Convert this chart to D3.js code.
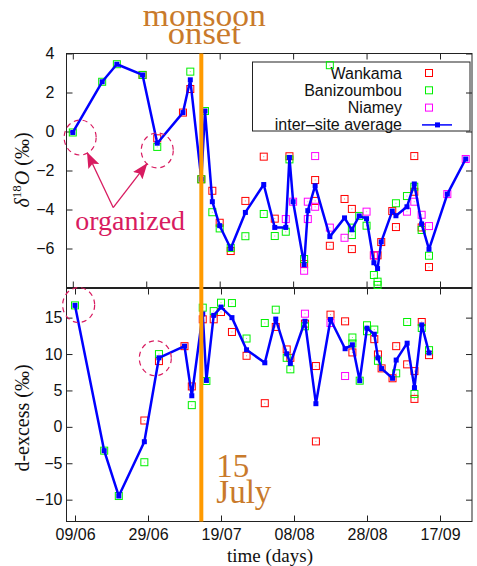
<!DOCTYPE html>
<html>
<head>
<meta charset="utf-8">
<script src="https://cdn.jsdelivr.net/npm/d3@7"></script>
<style>
body { margin: 0; background: #fff; }
svg { display: block; }
</style>
</head>
<body>
<svg id="chart"></svg>
<script>
// ---- values (dd/mm, 2006) ----
var xTickLabels = ['09/06', '29/06', '19/07', '08/08', '28/08', '17/09'];
var d18oTicks = [-6, -4, -2, 0, 2, 4];
var dexTicks = [-10, -5, 0, 5, 10, 15];
var monsoonOnset = '14/07';

// delta 18O panel
var d18oAvgDates = ['09/06', '17/06', '21/06', '28/06', '02/07', '09/07', '11/07', '14/07', '15/07', '17/07',
  '19/07', '22/07', '26/07', '31/07', '03/08', '06/08', '07/08', '08/08', '11/08', '12/08', '14/08', '18/08',
  '22/08', '24/08', '26/08', '28/08', '30/08', '31/08', '01/09', '04/09', '05/09', '08/09', '10/09', '12/09',
  '14/09', '19/09', '24/09'];
var d18oAvg = [-0.05, 2.55, 3.45, 2.9, -0.6, 0.97, 2.65, -2.45, 1.05, -3.6,
  -4.83, -6.0, -4.15, -2.72, -4.92, -4.92, -1.33, -3.6, -6.83, -4.06, -2.78, -5.39,
  -4.43, -5.04, -4.33, -4.47, -6.73, -7.03, -5.66, -4.08, -4.32, -3.86, -2.69, -4.74,
  -6.04, -3.21, -1.41];
var d18oWankama = [['28/06', 2.9], ['02/07', -0.35], ['09/07', 0.97], ['11/07', 2.18], ['14/07', -2.45],
  ['17/07', -3.04], ['19/07', -4.68], ['22/07', -6.13], ['26/07', -3.56], ['31/07', -1.29], ['03/08', -4.47],
  ['07/08', -1.27], ['11/08', -6.8], ['14/08', -2.49], ['14/08', -3.56], ['18/08', -5.86], ['22/08', -3.46],
  ['24/08', -3.97], ['24/08', -6.03], ['30/08', -6.35], ['31/08', -6.35], ['01/09', -5.67], ['04/09', -4.08],
  ['05/09', -4.9], ['10/09', -1.26], ['10/09', -3.09], ['12/09', -4.92], ['14/09', -6.95]];
var d18oBanizoumbou = [['09/06', -0.05], ['17/06', 2.55], ['21/06', 3.45], ['28/06', 2.9], ['02/07', -0.79],
  ['11/07', 3.07], ['14/07', -2.45], ['15/07', 1.05], ['17/07', -4.14], ['19/07', -4.97], ['22/07', -5.97],
  ['26/07', -5.37], ['31/07', -4.23], ['03/08', -5.36], ['06/08', -5.14], ['07/08', -1.43], ['11/08', -6.54],
  ['18/08', 3.4], ['24/08', -4.93], ['24/08', -5.31], ['26/08', -4.33], ['28/08', -4.83], ['30/08', -7.36],
  ['31/08', -7.7], ['31/08', -7.87], ['05/09', -3.68], ['08/09', -3.31], ['10/09', -2.83], ['12/09', -5.05],
  ['14/09', -6.37]];
var d18oNiamey = [['06/08', -4.49], ['08/08', -3.6], ['11/08', -7.14], ['12/08', -3.6], ['12/08', -4.49],
  ['14/08', -1.26], ['14/08', -3.86], ['18/08', -4.93], ['22/08', -5.45], ['28/08', -4.11], ['30/08', -6.35],
  ['08/09', -4.11], ['10/09', -3.6], ['12/09', -4.27], ['14/09', -4.85], ['19/09', -3.21], ['24/09', -1.41]];

// d-excess panel
var dexAvgDates = ['09/06', '17/06', '21/06', '28/06', '02/07', '09/07', '11/07', '14/07', '15/07', '17/07',
  '19/07', '22/07', '26/07', '31/07', '03/08', '06/08', '07/08', '11/08', '14/08', '18/08', '22/08', '24/08',
  '26/08', '28/08', '30/08', '31/08', '01/09', '04/09', '05/09', '08/09', '10/09', '12/09', '14/09'];
var dexAvg = [16.68, -3.27, -9.5, -2.04, 9.48, 11.08, 4.27, 15.5, 6.37, 15.31,
  16.45, 15.0, 10.58, 8.8, 14.8, 10.03, 8.71, 14.5, 3.18, 14.75, 10.73, 11.27,
  6.34, 13.55, 12.72, 9.48, 8.0, 6.67, 9.17, 11.49, 5.38, 14.0, 10.16];
var dexWankama = [['28/06', 0.87], ['02/07', 9.03], ['09/07', 11.08], ['11/07', 5.55], ['14/07', 14.77],
  ['17/07', 14.77], ['19/07', 15.77], ['22/07', 13.03], ['26/07', 9.76], ['31/07', 3.25], ['03/08', 13.72],
  ['06/08', 10.63], ['07/08', 9.48], ['11/08', 14.18], ['14/08', 8.35], ['14/08', -2.0], ['18/08', 15.41],
  ['22/08', 14.49], ['24/08', 10.22], ['30/08', 12.04], ['31/08', 9.94], ['01/09', 8.03], ['04/09', 6.67],
  ['05/09', 11.08], ['08/09', 8.58], ['10/09', 7.66], ['10/09', 3.84], ['12/09', 14.4], ['14/09', 9.85]];
var dexBanizoumbou = [['09/06', 16.68], ['17/06', -3.27], ['21/06', -9.5], ['28/06', -4.86], ['02/07', 9.99],
  ['11/07', 2.98], ['14/07', 16.37], ['15/07', 6.3], ['17/07', 15.9], ['19/07', 17.05], ['22/07', 17.0],
  ['26/07', 12.13], ['31/07', 14.26], ['03/08', 16.09], ['06/08', 9.48], ['07/08', 7.9], ['11/08', 13.81],
  ['24/08', 12.27], ['24/08', 11.45], ['26/08', 6.34], ['28/08', 13.95], ['28/08', 13.13], ['30/08', 13.36],
  ['31/08', 9.07], ['05/09', 7.35], ['08/09', 14.4], ['10/09', 4.52], ['12/09', 13.58], ['14/09', 10.53]];
var dexNiamey = [['11/08', 15.54], ['18/08', 14.26], ['22/08', 6.98]];

// dashed "organized" circles, in data units
var organizedTop = [['11/06', -0.31], ['02/07', -0.97]];
var organizedBottom = [['10/06', 16.73], ['01/07', 9.42]];
var organizedLabelAt = ['20/06', -3.9];

// ---- layout ----
var width = 477, height = 566;
var left = 66.5, right = 472;
var topY0 = 53.5, topY1 = 287.5, botY0 = 288.5, botY1 = 521.5;
var serif = '"Liberation Serif", "DejaVu Serif", serif';
var sans = '"Liberation Sans", Arial, sans-serif';
var colors = { wankama: '#ff0000', bani: '#00f000', niamey: '#ff00ff', avg: '#0000ff' };
var ochre = '#c97a2b', pink = '#d81b60';

var parse = d3.timeParse('%d/%m/%Y');
function day(s) { return parse(s + '/2006'); }

var svg = d3.select('#chart').attr('width', width).attr('height', height);

var xTop = d3.scaleTime().domain([day('09/06'), day('17/09')]).range([72.8, 440]);
var xBot = d3.scaleTime().domain([day('09/06'), day('17/09')]).range([75, 440]);
var yTop = d3.scaleLinear().domain([-8, 4]).range([topY1, topY0]);
var yBot = d3.scaleLinear().domain([-13, 19]).range([botY1, botY0]);

function frame(y0, y1) {
  svg.append('rect')
    .attr('x', left).attr('y', y0)
    .attr('width', right - left).attr('height', y1 - y0)
    .attr('fill', 'none').attr('stroke', '#222').attr('stroke-width', 1);
}

function axes(x, y, y0, y1, yTicks, labelPad, showX) {
  var tickDates = xTickLabels.map(day);
  var gl = svg.append('g').attr('transform', 'translate(' + left + ',0)')
    .call(d3.axisLeft(y).tickValues(yTicks).tickSizeInner(-6).tickSizeOuter(0).tickPadding(labelPad));
  var gr = svg.append('g').attr('transform', 'translate(' + right + ',0)')
    .call(d3.axisRight(y).tickValues(yTicks).tickSizeInner(-6).tickSizeOuter(0).tickFormat(''));
  var gt = svg.append('g').attr('transform', 'translate(0,' + y0 + ')')
    .call(d3.axisTop(x).tickValues(tickDates).tickSizeInner(-6).tickSizeOuter(0).tickFormat(''));
  var gb = svg.append('g').attr('transform', 'translate(0,' + y1 + ')')
    .call(d3.axisBottom(x).tickValues(tickDates).tickSizeInner(-6).tickSizeOuter(0).tickPadding(7)
      .tickFormat(showX ? d3.timeFormat('%d/%m') : ''));
  [gl, gr, gt, gb].forEach(function(g) {
    g.select('.domain').remove();
    g.selectAll('line').attr('stroke', '#222');
    g.selectAll('text').attr('font-family', sans).attr('font-size', 16).attr('fill', '#111');
  });
}

function sites(data, x, y, color) {
  var g = svg.append('g');
  g.selectAll('rect.box').data(data).enter().append('rect')
    .attr('class', 'box')
    .attr('x', function(d) { return x(day(d[0])) - 3.5; })
    .attr('y', function(d) { return y(d[1]) - 3.5; })
    .attr('width', 7).attr('height', 7)
    .attr('fill', 'none').attr('stroke', color).attr('stroke-width', 1);
  g.selectAll('rect.dot').data(data).enter().append('rect')
    .attr('class', 'dot')
    .attr('x', function(d) { return x(day(d[0])) - 0.5; })
    .attr('y', function(d) { return y(d[1]) - 0.5; })
    .attr('width', 1).attr('height', 1)
    .attr('fill', color).attr('opacity', 0.5);
}

function average(dates, values, x, y) {
  var pts = dates.map(function(d, i) { return [day(d), values[i]]; });
  var line = d3.line()
    .x(function(d) { return x(d[0]); })
    .y(function(d) { return y(d[1]); });
  svg.append('path').datum(pts)
    .attr('d', line)
    .attr('fill', 'none').attr('stroke', colors.avg).attr('stroke-width', 2.5)
    .attr('stroke-linejoin', 'round');
  svg.append('g').selectAll('rect').data(pts).enter().append('rect')
    .attr('x', function(d) { return x(d[0]) - 2.5; })
    .attr('y', function(d) { return y(d[1]) - 2.5; })
    .attr('width', 5).attr('height', 5)
    .attr('fill', colors.avg);
}

function circles(list, x, y) {
  list.forEach(function(c) {
    svg.append('ellipse')
      .attr('cx', x(day(c[0]))).attr('cy', y(c[1]))
      .attr('rx', 16).attr('ry', 17.5)
      .attr('fill', 'none').attr('stroke', pink)
      .attr('stroke-width', 1.2).attr('stroke-dasharray', '5,4');
  });
}

// frames and axes
frame(topY0, topY1);
frame(botY0, botY1);
axes(xTop, yTop, topY0, topY1, d18oTicks, 12, false);
axes(xBot, yBot, botY0, botY1, dexTicks, 4, true);

// legend (box drawn first so points can sit over it)
var legend = svg.append('g');
legend.append('rect')
  .attr('x', 252.5).attr('y', 62).attr('width', 217.5).attr('height', 69)
  .attr('fill', 'none').attr('stroke', '#222').attr('stroke-width', 1);
var legendItems = [
  { name: 'Wankama', color: colors.wankama },
  { name: 'Banizoumbou', color: colors.bani },
  { name: 'Niamey', color: colors.niamey },
  { name: 'inter\u2013site average', color: colors.avg }
];
legendItems.forEach(function(it, i) {
  var cy = 73 + i * 17.3;
  legend.append('text')
    .attr('x', 402).attr('y', cy + 5.5)
    .attr('text-anchor', 'end')
    .attr('font-family', sans).attr('font-size', 16).attr('fill', '#111')
    .text(it.name);
  if (i < 3) {
    legend.append('rect')
      .attr('x', 425.5).attr('y', cy - 3.5).attr('width', 7).attr('height', 7)
      .attr('fill', 'none').attr('stroke', it.color);
  } else {
    legend.append('line')
      .attr('x1', 422).attr('x2', 452).attr('y1', cy).attr('y2', cy)
      .attr('stroke', it.color).attr('stroke-width', 1.5);
    legend.append('rect')
      .attr('x', 435).attr('y', cy - 2.5).attr('width', 5).attr('height', 5)
      .attr('fill', it.color);
  }
});

// data
sites(d18oWankama, xTop, yTop, colors.wankama);
sites(d18oBanizoumbou, xTop, yTop, colors.bani);
sites(d18oNiamey, xTop, yTop, colors.niamey);
average(d18oAvgDates, d18oAvg, xTop, yTop);

sites(dexWankama, xBot, yBot, colors.wankama);
sites(dexBanizoumbou, xBot, yBot, colors.bani);
sites(dexNiamey, xBot, yBot, colors.niamey);
average(dexAvgDates, dexAvg, xBot, yBot);

// "organized" annotation
circles(organizedTop, xTop, yTop);
circles(organizedBottom, xBot, yBot);

svg.append('defs').append('marker')
  .attr('id', 'head')
  .attr('viewBox', '0 0 16 12')
  .attr('refX', 15).attr('refY', 6)
  .attr('markerWidth', 16).attr('markerHeight', 12)
  .attr('markerUnits', 'userSpaceOnUse')
  .attr('orient', 'auto')
  .append('path').attr('d', 'M0,0 L16,6 L0,12 L3,6 Z').attr('fill', pink);

var tailX = xTop(day(organizedLabelAt[0])), tailY = yTop(organizedLabelAt[1]);
organizedTop.forEach(function(c) {
  var cx = xTop(day(c[0])), cy = yTop(c[1]);
  var dx = tailX - cx, dy = tailY - cy, len = Math.sqrt(dx * dx + dy * dy);
  svg.append('line')
    .attr('x1', tailX).attr('y1', tailY)
    .attr('x2', cx + dx / len * 17).attr('y2', cy + dy / len * 17)
    .attr('stroke', pink).attr('stroke-width', 1.3)
    .attr('marker-end', 'url(#head)');
});
svg.append('text')
  .attr('x', tailX + 17).attr('y', tailY + 22)
  .attr('text-anchor', 'middle')
  .attr('font-family', serif).attr('font-size', 28).attr('fill', pink)
  .text('organized');

// monsoon onset line and labels
var onsetX = xTop(day(monsoonOnset));
svg.append('line')
  .attr('x1', onsetX).attr('x2', onsetX)
  .attr('y1', topY0).attr('y2', botY1)
  .attr('stroke', '#ff9a00').attr('stroke-width', 4);
svg.append('text')
  .attr('x', onsetX + 3).attr('y', 26)
  .attr('text-anchor', 'middle')
  .attr('font-family', serif).attr('font-size', 32).attr('fill', ochre)
  .attr('textLength', 123).attr('lengthAdjust', 'spacingAndGlyphs')
  .text('monsoon');
svg.append('text')
  .attr('x', onsetX + 3).attr('y', 44)
  .attr('text-anchor', 'middle')
  .attr('font-family', serif).attr('font-size', 32).attr('fill', ochre)
  .attr('textLength', 73).attr('lengthAdjust', 'spacingAndGlyphs')
  .text('onset');
svg.append('text')
  .attr('x', onsetX + 15).attr('y', 477)
  .attr('font-family', serif).attr('font-size', 33).attr('fill', ochre)
  .text('15');
svg.append('text')
  .attr('x', onsetX + 15).attr('y', 503)
  .attr('font-family', serif).attr('font-size', 33).attr('fill', ochre)
  .text('July');

// axis titles
var t1 = svg.append('text')
  .attr('transform', 'translate(29,170) rotate(-90)')
  .attr('text-anchor', 'middle')
  .attr('font-family', serif).attr('font-size', 20).attr('fill', '#111');
t1.append('tspan').attr('font-style', 'italic').text('\u03b4');
t1.append('tspan').attr('font-size', 13).attr('dy', -8).text('18');
t1.append('tspan').attr('font-style', 'italic').attr('dy', 8).text('O');
t1.append('tspan').text(' (\u2030)');

svg.append('text')
  .attr('transform', 'translate(29,418) rotate(-90)')
  .attr('text-anchor', 'middle')
  .attr('font-family', serif).attr('font-size', 20).attr('fill', '#111')
  .text('d-excess (\u2030)');

svg.append('text')
  .attr('x', 270).attr('y', 562)
  .attr('text-anchor', 'middle')
  .attr('font-family', serif).attr('font-size', 19).attr('fill', '#111')
  .text('time (days)');
</script>
</body>
</html>
